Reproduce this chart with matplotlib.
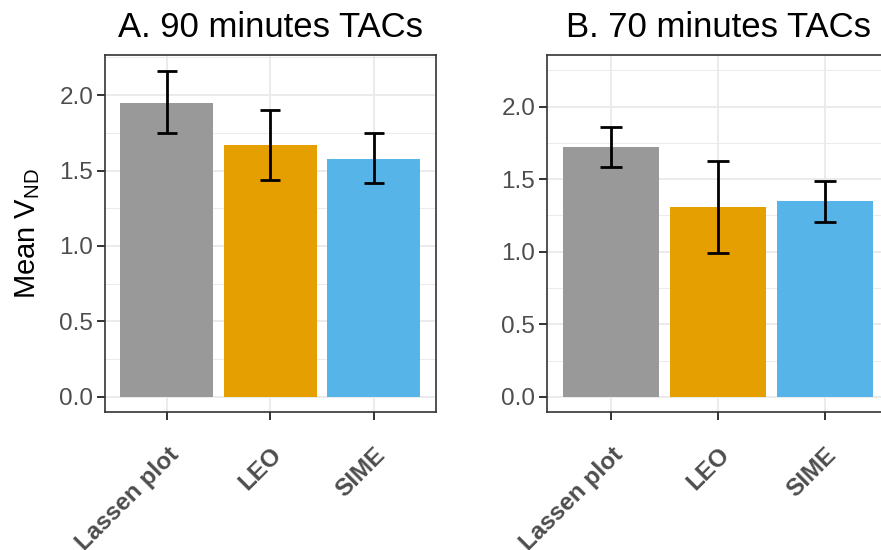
import matplotlib
matplotlib.use("Agg")
import matplotlib.pyplot as plt
import numpy as np

plt.rcParams['font.family'] = ['Liberation Sans', 'DejaVu Sans']
plt.rcParams['mathtext.fontset'] = 'custom'
plt.rcParams['mathtext.rm'] = 'Liberation Sans'
plt.rcParams['mathtext.it'] = 'Liberation Sans:italic'

methods = ['Lassen plot', 'LEO', 'SIME']
colours = ['#999999', '#E69F00', '#56B4E9']

mean_90 = [1.95, 1.667, 1.578]
low_90 = [1.747, 1.437, 1.415]
high_90 = [2.162, 1.901, 1.747]

mean_70 = [1.72, 1.308, 1.348]
low_70 = [1.582, 0.991, 1.207]
high_70 = [1.86, 1.623, 1.486]

fig = plt.figure(figsize=(8.81, 5.5), dpi=100)
axA = fig.add_axes([105 / 881, 1 - 412 / 550, 330.5 / 881, 357 / 550])
axB = fig.add_axes([547 / 881, 1 - 412 / 550, 342 / 881, 357 / 550])

panels = [
    (axA, 'A. 90 minutes TACs', mean_90, low_90, high_90, (-0.101, 2.266), 103.5),
    (axB, 'B. 70 minutes TACs', mean_70, low_70, high_70, (-0.105, 2.356), 107.0),
]

for ax, title, m, lo, hi, ylim, step in panels:
    x = np.arange(1, len(methods) + 1)
    m = np.array(m)
    yerr = [m - np.array(lo), np.array(hi) - m]
    ax.bar(x, m, width=0.9, color=colours, zorder=2)
    cap = 0.1 * step * 72 / 100
    ax.errorbar(x, m, yerr=yerr, fmt='none', ecolor='black', elinewidth=2.0,
                capsize=cap, capthick=2.0, zorder=3)
    ax.set_xlim(0.4, 3.6)
    ax.set_ylim(*ylim)
    ax.set_xticks(x)
    ax.set_xticklabels(methods, rotation=45, ha='right', rotation_mode='anchor',
                       fontsize=17.5, fontweight='bold', color='#4D4D4D')
    ax.set_yticks([0, 0.5, 1.0, 1.5, 2.0])
    ax.set_yticklabels(['0.0', '0.5', '1.0', '1.5', '2.0'], fontsize=17.5, color='#4D4D4D')
    ax.set_yticks([0.25, 0.75, 1.25, 1.75, 2.25], minor=True)
    ax.grid(True, which='major', color='#EBEBEB', linewidth=1.4, zorder=0)
    ax.grid(True, which='minor', axis='y', color='#EBEBEB', linewidth=0.7, zorder=0)
    ax.set_axisbelow(True)
    ax.tick_params(which='major', length=5.5, width=1.4, color='#333333')
    ax.tick_params(axis='x', which='major', pad=17)
    ax.tick_params(axis='y', which='major', pad=3)
    ax.tick_params(which='minor', length=0)
    for s in ax.spines.values():
        s.set_color('#333333')
        s.set_linewidth(1.2)
    ax.set_title(title, fontsize=25, pad=13)

axA.set_ylabel(r'Mean V$_{\mathrm{ND}}$', fontsize=21)
axA.yaxis.set_label_coords(-0.19, 0.5)

fig.savefig('out.png', dpi=100)
